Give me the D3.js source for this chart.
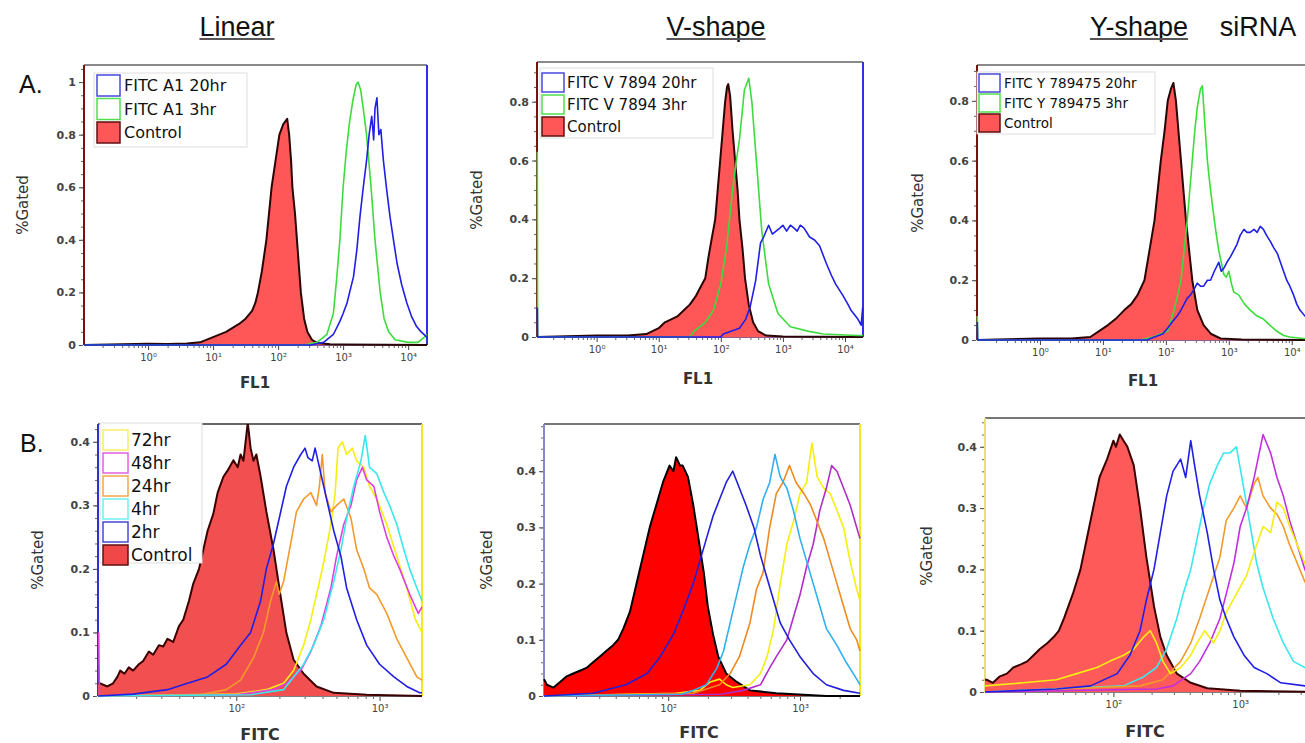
<!DOCTYPE html>
<html><head><meta charset="utf-8">
<script src="https://cdn.jsdelivr.net/npm/d3@7"></script>
<style>body{margin:0;background:#fff;} svg{display:block;}</style>
</head><body>
<svg id="c" width="1305" height="743"></svg>
<script>
// ---- data: [log10(intensity), fraction gated] ----
const linearCtrl = [[-0.985,0],[0,0.005],[0.3,0.004],[0.6,0.006],[0.8,0.01],[1.0,0.03],[1.2,0.05],[1.4,0.08],[1.5,0.1],[1.6,0.13],[1.65,0.16],[1.69,0.2],[1.75,0.28],[1.82,0.4],[1.86,0.5],[1.9,0.6],[1.96,0.7],[2.02,0.8],[2.08,0.84],[2.14,0.86],[2.17,0.8],[2.2,0.7],[2.22,0.6],[2.26,0.5],[2.29,0.4],[2.32,0.3],[2.35,0.2],[2.4,0.1],[2.45,0.05],[2.52,0.02],[2.6,0.008],[2.8,0.003],[3,0.002],[4.29,0]];
const linearGreen = [[-0.985,0],[2.4,0],[2.6,0.01],[2.75,0.04],[2.85,0.12],[2.9,0.25],[2.95,0.4],[3.0,0.6],[3.05,0.74],[3.1,0.85],[3.15,0.93],[3.2,0.99],[3.23,1.0],[3.27,0.97],[3.32,0.88],[3.36,0.8],[3.43,0.6],[3.49,0.4],[3.57,0.2],[3.63,0.1],[3.7,0.05],[3.8,0.02],[4.0,0.01],[4.15,0.01],[4.25,0.03],[4.29,0.04]];
const linearBlue = [[-0.985,0],[2.5,0],[2.7,0.01],[2.85,0.04],[2.95,0.09],[3.0,0.12],[3.06,0.16],[3.12,0.22],[3.16,0.26],[3.21,0.36],[3.26,0.49],[3.31,0.6],[3.36,0.7],[3.4,0.8],[3.44,0.87],[3.47,0.78],[3.49,0.9],[3.52,0.94],[3.55,0.8],[3.58,0.82],[3.62,0.7],[3.67,0.59],[3.72,0.49],[3.78,0.39],[3.83,0.31],[3.9,0.23],[3.98,0.16],[4.05,0.11],[4.13,0.07],[4.2,0.05],[4.29,0.03]];

const vCtrl = [[-0.96,0],[0,0.005],[0.5,0.005],[0.8,0.01],[1.0,0.03],[1.1,0.05],[1.2,0.06],[1.3,0.07],[1.4,0.09],[1.5,0.11],[1.6,0.14],[1.7,0.18],[1.75,0.2],[1.8,0.27],[1.85,0.33],[1.91,0.4],[1.95,0.5],[1.99,0.6],[2.03,0.7],[2.07,0.8],[2.1,0.85],[2.12,0.86],[2.15,0.82],[2.19,0.7],[2.23,0.6],[2.27,0.5],[2.3,0.4],[2.35,0.3],[2.39,0.2],[2.45,0.11],[2.52,0.05],[2.6,0.02],[2.73,0.005],[3,0.002],[4.29,0]];
const vGreen = [[-0.955,0.63],[-0.95,0],[1.5,0],[1.57,0.02],[1.75,0.05],[1.88,0.09],[2.0,0.18],[2.09,0.3],[2.19,0.5],[2.25,0.6],[2.3,0.67],[2.38,0.84],[2.45,0.88],[2.5,0.8],[2.58,0.58],[2.66,0.36],[2.77,0.18],[2.92,0.08],[3.12,0.035],[3.4,0.02],[3.65,0.01],[4.2,0.005],[4.29,0.005]];
const vBlue = [[-0.955,0.1],[-0.95,0],[2.0,0],[2.04,0.01],[2.3,0.03],[2.4,0.06],[2.47,0.1],[2.56,0.19],[2.64,0.32],[2.69,0.34],[2.77,0.38],[2.83,0.35],[2.89,0.36],[2.95,0.37],[3.0,0.38],[3.06,0.36],[3.12,0.38],[3.18,0.37],[3.23,0.36],[3.28,0.38],[3.34,0.37],[3.43,0.34],[3.51,0.33],[3.59,0.31],[3.7,0.25],[3.78,0.21],[3.85,0.18],[3.97,0.14],[4.05,0.11],[4.1,0.09],[4.21,0.06],[4.26,0.04],[4.285,0.1]];

const yCtrl = [[-1,0],[0,0.005],[0.5,0.005],[0.8,0.01],[1.08,0.05],[1.2,0.07],[1.34,0.1],[1.45,0.12],[1.55,0.15],[1.66,0.2],[1.74,0.3],[1.82,0.4],[1.87,0.5],[1.92,0.6],[1.98,0.7],[2.03,0.8],[2.08,0.84],[2.12,0.86],[2.16,0.8],[2.2,0.7],[2.24,0.6],[2.28,0.5],[2.32,0.4],[2.37,0.3],[2.42,0.2],[2.5,0.1],[2.6,0.05],[2.72,0.02],[2.87,0.005],[3.2,0.002],[4.29,0]];
const yGreen = [[-0.995,0.08],[-0.99,0],[1.6,0],[1.8,0.01],[2.03,0.03],[2.13,0.1],[2.2,0.16],[2.24,0.2],[2.29,0.3],[2.34,0.4],[2.38,0.5],[2.42,0.6],[2.46,0.7],[2.5,0.78],[2.55,0.84],[2.58,0.85],[2.62,0.72],[2.66,0.6],[2.7,0.52],[2.74,0.45],[2.79,0.37],[2.84,0.3],[2.88,0.26],[2.92,0.22],[2.96,0.21],[3.0,0.23],[3.04,0.19],[3.08,0.16],[3.16,0.15],[3.25,0.12],[3.34,0.1],[3.45,0.08],[3.55,0.07],[3.65,0.05],[3.76,0.03],[3.87,0.015],[3.97,0.01],[4.18,0.005],[4.29,0.005]];
const yBlue = [[-0.995,0.06],[-0.99,0],[1.7,0],[1.82,0.01],[1.95,0.02],[2.03,0.04],[2.1,0.06],[2.18,0.08],[2.24,0.1],[2.29,0.12],[2.34,0.14],[2.39,0.15],[2.45,0.17],[2.5,0.19],[2.55,0.18],[2.6,0.18],[2.66,0.2],[2.71,0.2],[2.77,0.23],[2.84,0.26],[2.88,0.23],[2.92,0.24],[2.97,0.26],[3.03,0.28],[3.08,0.3],[3.13,0.32],[3.18,0.35],[3.24,0.37],[3.29,0.36],[3.34,0.36],[3.4,0.37],[3.45,0.36],[3.5,0.38],[3.55,0.37],[3.6,0.35],[3.66,0.33],[3.71,0.31],[3.77,0.29],[3.82,0.26],[3.87,0.23],[3.92,0.2],[3.97,0.18],[4.03,0.15],[4.08,0.12],[4.13,0.1],[4.21,0.08],[4.29,0.06]];

const bLinCtrl = [[1.035,0.02],[1.05,0.02],[1.1,0.015],[1.14,0.02],[1.17,0.03],[1.19,0.04],[1.22,0.035],[1.25,0.045],[1.28,0.04],[1.32,0.05],[1.35,0.055],[1.39,0.07],[1.42,0.065],[1.46,0.08],[1.49,0.078],[1.52,0.09],[1.56,0.085],[1.6,0.11],[1.63,0.12],[1.67,0.15],[1.7,0.177],[1.74,0.2],[1.77,0.23],[1.8,0.26],[1.84,0.287],[1.87,0.32],[1.91,0.345],[1.94,0.355],[1.98,0.371],[2.01,0.36],[2.03,0.38],[2.05,0.37],[2.07,0.41],[2.08,0.43],[2.1,0.39],[2.12,0.37],[2.14,0.38],[2.17,0.345],[2.21,0.29],[2.26,0.23],[2.31,0.156],[2.35,0.099],[2.4,0.057],[2.47,0.035],[2.56,0.015],[2.68,0.005],[2.91,0.002],[3.296,0]];
const bLinBlue = [[1.035,0],[1.28,0.003],[1.52,0.01],[1.66,0.02],[1.8,0.03],[1.93,0.05],[2.03,0.08],[2.1,0.1],[2.17,0.15],[2.21,0.2],[2.26,0.24],[2.31,0.29],[2.35,0.33],[2.4,0.36],[2.45,0.38],[2.48,0.39],[2.5,0.375],[2.53,0.37],[2.55,0.39],[2.59,0.35],[2.63,0.31],[2.68,0.26],[2.73,0.22],[2.77,0.17],[2.84,0.12],[2.91,0.08],[3.0,0.05],[3.1,0.03],[3.19,0.015],[3.28,0.005],[3.296,0.005]];
const bLinOrange = [[1.035,0],[1.75,0.002],[1.93,0.01],[2.03,0.025],[2.12,0.06],[2.19,0.1],[2.24,0.15],[2.28,0.18],[2.3,0.16],[2.33,0.18],[2.38,0.24],[2.42,0.29],[2.47,0.31],[2.52,0.32],[2.56,0.3],[2.58,0.33],[2.6,0.38],[2.62,0.32],[2.66,0.29],[2.7,0.3],[2.75,0.31],[2.8,0.28],[2.84,0.23],[2.89,0.2],[2.93,0.17],[2.98,0.16],[3.05,0.13],[3.12,0.09],[3.19,0.06],[3.26,0.03],[3.296,0.025]];
const bLinYellow = [[1.035,0],[2.0,0.003],[2.21,0.01],[2.33,0.02],[2.4,0.04],[2.47,0.08],[2.52,0.12],[2.56,0.16],[2.61,0.21],[2.66,0.27],[2.69,0.32],[2.71,0.39],[2.74,0.4],[2.77,0.38],[2.81,0.39],[2.84,0.37],[2.89,0.36],[2.93,0.33],[2.98,0.31],[3.05,0.27],[3.12,0.22],[3.19,0.17],[3.25,0.12],[3.296,0.1]];
const bLinMagenta = [[1.04,0.1],[1.045,0],[2.0,0.002],[2.26,0.01],[2.35,0.02],[2.45,0.04],[2.52,0.07],[2.59,0.11],[2.66,0.17],[2.7,0.22],[2.75,0.27],[2.8,0.3],[2.84,0.34],[2.88,0.36],[2.91,0.34],[2.96,0.33],[3.0,0.29],[3.05,0.25],[3.1,0.22],[3.14,0.2],[3.21,0.16],[3.27,0.13],[3.296,0.14]];
const bLinCyan = [[1.035,0],[2.1,0.002],[2.33,0.01],[2.4,0.03],[2.47,0.05],[2.54,0.08],[2.61,0.12],[2.68,0.18],[2.73,0.23],[2.77,0.28],[2.82,0.33],[2.87,0.37],[2.9,0.41],[2.93,0.36],[2.98,0.35],[3.03,0.32],[3.07,0.3],[3.12,0.27],[3.17,0.23],[3.21,0.2],[3.26,0.17],[3.296,0.15]];

const bVCtrl = [[1.058,0.03],[1.08,0.02],[1.13,0.015],[1.18,0.025],[1.23,0.035],[1.28,0.04],[1.33,0.045],[1.38,0.05],[1.43,0.06],[1.48,0.07],[1.53,0.08],[1.58,0.09],[1.62,0.1],[1.66,0.12],[1.71,0.15],[1.76,0.2],[1.81,0.25],[1.86,0.3],[1.91,0.34],[1.96,0.38],[2.01,0.41],[2.04,0.4],[2.06,0.425],[2.09,0.41],[2.11,0.41],[2.15,0.39],[2.19,0.34],[2.23,0.28],[2.27,0.22],[2.3,0.16],[2.34,0.11],[2.38,0.07],[2.44,0.04],[2.52,0.025],[2.62,0.01],[2.82,0.005],[3.2,0],[3.455,0]];
const bVBlue = [[1.058,0],[1.43,0.005],[1.68,0.02],[1.84,0.04],[1.94,0.07],[2.04,0.11],[2.11,0.15],[2.19,0.2],[2.24,0.24],[2.29,0.28],[2.34,0.32],[2.39,0.35],[2.44,0.38],[2.49,0.4],[2.54,0.37],[2.59,0.34],[2.65,0.3],[2.7,0.25],[2.75,0.21],[2.8,0.17],[2.85,0.13],[2.92,0.1],[3.0,0.07],[3.1,0.04],[3.2,0.02],[3.33,0.01],[3.455,0.005]];
const bVCyan = [[1.058,0],[2.1,0.003],[2.19,0.01],[2.29,0.02],[2.37,0.05],[2.42,0.08],[2.47,0.13],[2.52,0.18],[2.57,0.23],[2.62,0.27],[2.67,0.3],[2.72,0.35],[2.77,0.38],[2.81,0.43],[2.85,0.39],[2.9,0.37],[2.95,0.33],[3.0,0.28],[3.05,0.24],[3.1,0.2],[3.15,0.16],[3.2,0.12],[3.28,0.09],[3.35,0.06],[3.43,0.03],[3.455,0.02]];
const bVOrange = [[1.058,0],[2.19,0.005],[2.39,0.02],[2.47,0.04],[2.54,0.07],[2.62,0.13],[2.67,0.19],[2.72,0.22],[2.77,0.3],[2.82,0.36],[2.87,0.38],[2.92,0.41],[2.97,0.38],[3.03,0.36],[3.08,0.34],[3.13,0.31],[3.18,0.28],[3.23,0.24],[3.28,0.2],[3.33,0.16],[3.38,0.12],[3.43,0.1],[3.455,0.08]];
const bVYellow = [[1.058,0],[2.06,0.005],[2.24,0.01],[2.32,0.025],[2.39,0.03],[2.44,0.02],[2.49,0.015],[2.62,0.02],[2.7,0.04],[2.75,0.07],[2.8,0.12],[2.85,0.2],[2.9,0.27],[2.95,0.31],[3.0,0.36],[3.05,0.38],[3.09,0.45],[3.13,0.39],[3.18,0.37],[3.23,0.36],[3.28,0.33],[3.33,0.3],[3.38,0.24],[3.43,0.19],[3.455,0.17]];
const bVPurple = [[1.058,0],[2.4,0.003],[2.57,0.01],[2.7,0.02],[2.77,0.05],[2.82,0.07],[2.9,0.1],[2.95,0.14],[3.0,0.18],[3.05,0.23],[3.1,0.27],[3.15,0.33],[3.2,0.37],[3.24,0.41],[3.28,0.4],[3.33,0.37],[3.38,0.34],[3.43,0.3],[3.455,0.28]];

const bYCtrl = [[0.987,0.02],[1.0,0.02],[1.05,0.015],[1.1,0.025],[1.16,0.03],[1.21,0.04],[1.27,0.045],[1.32,0.05],[1.37,0.06],[1.42,0.07],[1.48,0.08],[1.53,0.09],[1.57,0.1],[1.61,0.12],[1.68,0.16],[1.74,0.2],[1.79,0.25],[1.84,0.3],[1.89,0.35],[1.95,0.38],[2.0,0.41],[2.02,0.4],[2.05,0.42],[2.08,0.41],[2.11,0.4],[2.16,0.37],[2.21,0.3],[2.26,0.22],[2.32,0.14],[2.37,0.09],[2.42,0.06],[2.5,0.03],[2.61,0.015],[2.74,0.006],[3.0,0.002],[3.59,0]];
const bYBlue = [[0.987,0],[1.55,0.005],[1.82,0.01],[2.03,0.03],[2.13,0.06],[2.21,0.1],[2.26,0.15],[2.32,0.2],[2.37,0.26],[2.42,0.32],[2.47,0.36],[2.53,0.38],[2.57,0.35],[2.61,0.41],[2.64,0.37],[2.68,0.32],[2.74,0.26],[2.79,0.2],[2.84,0.15],[2.89,0.12],[2.95,0.09],[3.03,0.06],[3.11,0.04],[3.21,0.03],[3.32,0.015],[3.51,0.01],[3.59,0.01]];
const bYCyan = [[0.987,0],[2.08,0.01],[2.24,0.025],[2.34,0.04],[2.42,0.07],[2.5,0.12],[2.55,0.16],[2.61,0.2],[2.66,0.25],[2.71,0.3],[2.76,0.34],[2.82,0.37],[2.87,0.39],[2.92,0.39],[2.97,0.4],[3.03,0.33],[3.08,0.27],[3.13,0.21],[3.18,0.17],[3.26,0.12],[3.34,0.08],[3.42,0.05],[3.51,0.04],[3.59,0.03]];
const bYOrange = [[0.987,0],[2.21,0.01],[2.39,0.02],[2.53,0.05],[2.61,0.08],[2.68,0.12],[2.76,0.17],[2.84,0.22],[2.89,0.28],[2.95,0.3],[3.0,0.32],[3.05,0.3],[3.11,0.34],[3.14,0.35],[3.18,0.32],[3.24,0.3],[3.29,0.29],[3.34,0.27],[3.39,0.24],[3.45,0.21],[3.51,0.18],[3.59,0.15]];
const bYYellow = [[0.987,0.01],[1.29,0.015],[1.55,0.02],[1.71,0.03],[1.87,0.04],[1.97,0.05],[2.08,0.06],[2.16,0.07],[2.24,0.09],[2.29,0.1],[2.34,0.08],[2.39,0.05],[2.45,0.03],[2.53,0.04],[2.61,0.06],[2.66,0.08],[2.72,0.1],[2.79,0.08],[2.84,0.1],[2.89,0.13],[2.97,0.16],[3.05,0.19],[3.13,0.24],[3.18,0.27],[3.24,0.26],[3.29,0.31],[3.34,0.3],[3.39,0.27],[3.45,0.24],[3.51,0.21],[3.59,0.18]];
const bYMagenta = [[0.987,0],[2.34,0.005],[2.47,0.01],[2.61,0.03],[2.68,0.05],[2.76,0.08],[2.84,0.12],[2.89,0.16],[2.95,0.21],[3.0,0.27],[3.05,0.3],[3.11,0.35],[3.16,0.4],[3.18,0.42],[3.24,0.39],[3.29,0.35],[3.34,0.32],[3.39,0.28],[3.45,0.24],[3.51,0.2],[3.59,0.16]];

// labels
const columnTitles = ["Linear","V-shape","Y-shape"];
const extraTitle = "siRNA";
const rowLabels = ["A.","B."];
const legendA1 = ["FITC A1 20hr","FITC A1 3hr","Control"];
const legendA2 = ["FITC V 7894 20hr","FITC V 7894 3hr","Control"];
const legendA3 = ["FITC Y 789475 20hr","FITC Y 789475 3hr","Control"];
const legendB = ["72hr","48hr","24hr","4hr","2hr","Control"];
const yTicksA1 = [0,0.2,0.4,0.6,0.8,1];
const yTicksA = [0,0.2,0.4,0.6,0.8];
const yTicksB = [0,0.1,0.2,0.3,0.4];
const xTicksA = [1,10,100,1000,10000];
const xTicksB = [100,1000];

// ---- drawing ----
const svg = d3.select("#c");
const FONT = "DejaVu Sans, Verdana, sans-serif";
const sup = {"-1":"⁻¹","0":"⁰","1":"¹","2":"²","3":"³","4":"⁴"};
let clipId = 0;

function panel(cfg){
  const x = d3.scaleLog().domain([10**cfg.lx[0],10**cfg.lx[1]]).range([cfg.px[0],cfg.px[1]]);
  const y = d3.scaleLinear().domain([0,cfg.ymax]).range([cfg.py[0],cfg.py[1]]);
  const g = svg.append("g");
  const id = "clip"+(clipId++);
  g.append("clipPath").attr("id",id).append("rect")
    .attr("x",cfg.px[0]-1).attr("y",cfg.py[1]).attr("width",cfg.px[1]-cfg.px[0]+2).attr("height",cfg.py[0]-cfg.py[1]+1);
  // frame (under curves)
  const f = cfg.frame;
  g.append("line").attr("x1",cfg.px[0]).attr("x2",Math.min(cfg.px[1],1305)).attr("y1",cfg.py[1]).attr("y2",cfg.py[1]).attr("stroke",f.top).attr("stroke-width",2);
  g.append("line").attr("x1",cfg.px[0]).attr("x2",cfg.px[0]).attr("y1",cfg.py[1]).attr("y2",cfg.py[0]).attr("stroke",f.left).attr("stroke-width",2);
  if(f.right) g.append("line").attr("x1",cfg.px[1]).attr("x2",cfg.px[1]).attr("y1",cfg.py[1]).attr("y2",cfg.py[0]).attr("stroke",f.right).attr("stroke-width",2);
  g.append("line").attr("x1",cfg.px[0]).attr("x2",cfg.px[1]).attr("y1",cfg.py[0]).attr("y2",cfg.py[0]).attr("stroke",f.bottom).attr("stroke-width",1.5);

  const plot = g.append("g").attr("clip-path",`url(#${id})`);
  const area = d3.area().x(d=>x(10**d[0])).y0(y(0)).y1(d=>y(d[1]));
  const line = d3.line().x(d=>x(10**d[0])).y(d=>y(d[1]));
  cfg.series.forEach(s=>{
    if(s.fill){
      plot.append("path").datum(s.data).attr("d",area).attr("fill",s.fill).attr("stroke","none");
      plot.append("path").datum(s.data).attr("d",line).attr("fill","none").attr("stroke",s.color).attr("stroke-width",2).attr("stroke-linejoin","round");
    } else {
      plot.append("path").datum(s.data).attr("d",line).attr("fill","none").attr("stroke",s.color).attr("stroke-width",s.w||1.6).attr("stroke-linejoin","round");
    }
  });
  // y axis
  const fmt = d=> d===0?"0":(d===1?"1":d.toFixed(1));
  const ya = g.append("g").attr("transform",`translate(${cfg.px[0]-1},0)`)
    .call(d3.axisLeft(y).tickValues(cfg.yTicks).tickSize(4).tickPadding(3).tickFormat(fmt));
  ya.select(".domain").remove();
  ya.selectAll("line").attr("stroke","#444");
  ya.selectAll("text").attr("font-family",FONT).attr("font-size",11).attr("font-weight","bold").attr("fill","#444");
  const ym = g.append("g").attr("transform",`translate(${cfg.px[0]-1},0)`)
    .call(d3.axisLeft(y).tickValues(d3.range(0,cfg.ymax+1e-9,cfg.yMinor)).tickSize(2).tickFormat(""));
  ym.select(".domain").remove(); ym.selectAll("line").attr("stroke","#666");
  // x axis
  const xa = g.append("g").attr("transform",`translate(0,${cfg.py[0]+1})`)
    .call(d3.axisBottom(x).tickValues(cfg.xTicks).tickSize(4).tickPadding(4).tickFormat(d=>"10"+sup[Math.round(Math.log10(d))]));
  xa.select(".domain").remove();
  xa.selectAll("line").attr("stroke","#444");
  xa.selectAll("text").attr("font-family",FONT).attr("font-size",10).attr("fill","#444");
  const minors=[];
  for(let k=-2;k<5;k++) for(let m=2;m<10;m++){const v=m*10**k; if(v>x.domain()[0]&&v<x.domain()[1]) minors.push(v);}
  const xm = g.append("g").attr("transform",`translate(0,${cfg.py[0]+1})`)
    .call(d3.axisBottom(x).tickValues(minors).tickSize(2).tickFormat(""));
  xm.select(".domain").remove(); xm.selectAll("line").attr("stroke","#666");
  // axis titles
  svg.append("text").attr("transform",`translate(${cfg.yl[0]},${cfg.yl[1]}) rotate(-90)`)
    .attr("text-anchor","middle").attr("dy","0.35em").attr("font-family",FONT).attr("font-size",15).attr("fill","#333").text("%Gated");
  svg.append("text").attr("x",cfg.xl[0]).attr("y",cfg.xl[1]).attr("text-anchor","middle")
    .attr("font-family",FONT).attr("font-size",cfg.xlSize).attr("font-weight","bold").attr("fill","#333").text(cfg.xlabel);
  // legend
  if(cfg.legend){
    const L = cfg.legend;
    svg.append("rect").attr("x",L.box[0]).attr("y",L.box[1]).attr("width",L.box[2]).attr("height",L.box[3])
      .attr("fill","#fff").attr("stroke","#ddd").attr("stroke-width",1);
    L.items.forEach((it,i)=>{
      const ty = L.y0 + i*L.dy;
      svg.append("rect").attr("x",L.sx).attr("y",ty).attr("width",L.sw).attr("height",L.sh)
        .attr("fill",it.fill||"#fff").attr("stroke",it.stroke).attr("stroke-width",1.5);
      svg.append("text").attr("x",L.tx).attr("y",ty+L.sh/2).attr("dy","0.36em")
        .attr("font-family",FONT).attr("font-size",L.fs).attr("fill","#111").text(it.label);
    });
  }
}

const BLUE="#1f1fe6", GREEN="#3ddc3d", CFILL="#ff5757", COUT="#2a0505";
const YEL="#f5ee10", MAG="#e040e0", ORA="#f59a2a", CYA="#38e8ee";

panel({lx:[-0.985,4.29],px:[84,427],py:[345,65],ymax:1.065,yTicks:yTicksA1,yMinor:0.05,xTicks:xTicksA,
  frame:{top:"#8a8a8a",left:"#7a1010",right:"#3030e8",bottom:"#6a2a6a"},
  series:[{data:linearCtrl,fill:CFILL,color:COUT},{data:linearGreen,color:GREEN},{data:linearBlue,color:BLUE}],
  yl:[23,205],xl:[255,388],xlabel:"FL1",xlSize:15,
  legend:{box:[94,73,153,74],sx:97,sw:23,sh:21,y0:75,dy:23.5,tx:124,fs:16,
    items:[{label:legendA1[0],stroke:"#4848e0"},{label:legendA1[1],stroke:"#50e050"},{label:legendA1[2],stroke:"#601010",fill:CFILL}]}});

panel({lx:[-0.96,4.29],px:[537,863],py:[337,62],ymax:0.935,yTicks:yTicksA,yMinor:0.05,xTicks:xTicksA,
  frame:{top:"#8a8a8a",left:"#7a1010",right:"#3030e8",bottom:"#6a2a6a"},
  series:[{data:vCtrl,fill:CFILL,color:COUT},{data:vGreen,color:GREEN},{data:vBlue,color:BLUE}],
  yl:[477,200],xl:[698,384],xlabel:"FL1",xlSize:15,
  legend:{box:[540,68,173,70],sx:542,sw:22,sh:19,y0:73,dy:22,tx:567,fs:15,
    items:[{label:legendA2[0],stroke:"#4848e0"},{label:legendA2[1],stroke:"#50e050"},{label:legendA2[2],stroke:"#601010",fill:CFILL}]}});

panel({lx:[-1.0,4.29],px:[977,1310],py:[340,65],ymax:0.92,yTicks:yTicksA,yMinor:0.05,xTicks:xTicksA,
  frame:{top:"#8a8a8a",left:"#7a1010",right:null,bottom:"#6a2a6a"},
  series:[{data:yCtrl,fill:CFILL,color:COUT},{data:yGreen,color:GREEN},{data:yBlue,color:BLUE}],
  yl:[918,203],xl:[1143,386],xlabel:"FL1",xlSize:15,
  legend:{box:[977,72,178,62],sx:979,sw:21,sh:18,y0:74,dy:20,tx:1004,fs:13.5,
    items:[{label:legendA3[0],stroke:"#4848e0"},{label:legendA3[1],stroke:"#50e050"},{label:legendA3[2],stroke:"#601010",fill:CFILL}]}});

panel({lx:[1.035,3.296],px:[98,422],py:[696,424],ymax:0.428,yTicks:yTicksB,yMinor:0.02,xTicks:xTicksB,
  frame:{top:"#666",left:"#3030d0",right:"#f0e820",bottom:"#555"},
  series:[{data:bLinCtrl,fill:"#f25050",color:"#3a0000"},{data:bLinYellow,color:YEL},{data:bLinMagenta,color:MAG},{data:bLinOrange,color:ORA},{data:bLinCyan,color:CYA},{data:bLinBlue,color:BLUE}],
  yl:[38,560],xl:[260,740],xlabel:"FITC",xlSize:16,
  legend:{box:[100,423,102,140],sx:103,sw:25,sh:20,y0:430,dy:23,tx:131,fs:17,
    items:[{label:legendB[0],stroke:"#f8f060"},{label:legendB[1],stroke:"#e060e0"},{label:legendB[2],stroke:"#f0a848"},{label:legendB[3],stroke:"#70f0f0"},{label:legendB[4],stroke:"#4848d8"},{label:legendB[5],stroke:"#601010",fill:"#f04848"}]}});

panel({lx:[1.058,3.455],px:[544,860],py:[696,424],ymax:0.484,yTicks:yTicksB,yMinor:0.02,xTicks:xTicksB,
  frame:{top:"#777",left:"#8888c8",right:"#f0e820",bottom:"#555"},
  series:[{data:bVCtrl,fill:"#ff0000",color:"#000"},{data:bVYellow,color:YEL},{data:bVPurple,color:"#b02ec8"},{data:bVOrange,color:"#f08a20"},{data:bVCyan,color:"#30b0f0"},{data:bVBlue,color:"#2020d8"}],
  yl:[487,560],xl:[699,738],xlabel:"FITC",xlSize:16});

panel({lx:[0.987,3.59],px:[985,1315],py:[692,418],ymax:0.447,yTicks:yTicksB,yMinor:0.02,xTicks:xTicksB,
  frame:{top:"#777",left:"#e8e070",right:null,bottom:"#555"},
  series:[{data:bYCtrl,fill:"#ff5a5a",color:"#3a0000"},{data:bYCyan,color:CYA},{data:bYOrange,color:ORA},{data:bYMagenta,color:"#c030e0"},{data:bYYellow,color:YEL},{data:bYBlue,color:BLUE}],
  yl:[927,556],xl:[1145,737],xlabel:"FITC",xlSize:16});

// titles
const titleX = [237,716,1139];
columnTitles.forEach((t,i)=>{
  const tx = svg.append("text").attr("x",titleX[i]).attr("y",36).attr("text-anchor","middle")
    .attr("font-family","Liberation Sans, Arial, sans-serif").attr("font-size",27).attr("fill","#111").text(t);
  const bb = tx.node().getBBox();
  svg.append("line").attr("x1",bb.x).attr("x2",bb.x+bb.width).attr("y1",39).attr("y2",39).attr("stroke","#555").attr("stroke-width",2);
});
svg.append("text").attr("x",1258).attr("y",36).attr("text-anchor","middle")
  .attr("font-family","Liberation Sans, Arial, sans-serif").attr("font-size",27).attr("fill","#111").text(extraTitle);
svg.append("text").attr("x",19).attr("y",93).attr("font-family","Liberation Sans, Arial, sans-serif").attr("font-size",25).attr("fill","#111").text(rowLabels[0]);
svg.append("text").attr("x",20).attr("y",452).attr("font-family","Liberation Sans, Arial, sans-serif").attr("font-size",25).attr("fill","#111").text(rowLabels[1]);
</script>
</body></html>
